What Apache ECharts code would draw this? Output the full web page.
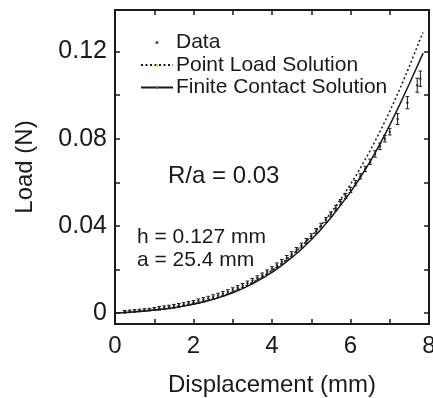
<!DOCTYPE html>
<html>
<head>
<meta charset="utf-8">
<script src="https://cdn.jsdelivr.net/npm/echarts@6/dist/echarts.min.js"></script>
<style>
  html, body { margin: 0; padding: 0; background: #fff; }
  #chart { width: 433px; height: 398px; }
</style>
</head>
<body>
<div id="chart"></div>
<script>
// Model curves, sampled in displacement (mm)
const curveDisp = [0, 0.25, 0.5, 0.75, 1, 1.25, 1.5, 1.75, 2, 2.25, 2.5, 2.75, 3, 3.25, 3.5, 3.75, 4,
  4.25, 4.5, 4.75, 5, 5.25, 5.5, 5.75, 6, 6.25, 6.5, 6.75, 7, 7.25, 7.5, 7.75, 7.85];
const finiteContactLoad = [0, 0.0003, 0.0006, 0.0010, 0.0014, 0.0019, 0.0025, 0.0032, 0.0041, 0.0051,
  0.0063, 0.0077, 0.0093, 0.0112, 0.0134, 0.0159, 0.0187, 0.0219, 0.0254, 0.0293, 0.0336, 0.0384,
  0.0437, 0.0495, 0.0555, 0.0622, 0.0695, 0.0775, 0.0862, 0.0955, 0.1052, 0.1152, 0.1192];
const pointLoad = [0, 0.0003, 0.0006, 0.0010, 0.0014, 0.0019, 0.0025, 0.0033, 0.0042, 0.0052,
  0.0065, 0.0079, 0.0096, 0.0116, 0.0139, 0.0165, 0.0195, 0.0228, 0.0265, 0.0306, 0.0352, 0.0403,
  0.0460, 0.0522, 0.0590, 0.0664, 0.0745, 0.0832, 0.0925, 0.1025, 0.1132, 0.1245, 0.1287];

// Measured points with half-width of the error bars
const dataDisp = [0.25, 0.375, 0.5, 0.625, 0.75, 0.875, 1.0,
  1.125, 1.25, 1.375, 1.5, 1.625, 1.75, 1.875, 2.0,
  2.125, 2.25, 2.375, 2.5, 2.625, 2.75, 2.875, 3.0, 3.125, 3.25, 3.375, 3.5, 3.625, 3.75, 3.875, 4.0,
  4.125, 4.25, 4.375, 4.5, 4.625, 4.75, 4.875, 5.0, 5.125, 5.25, 5.375, 5.5,
  5.625, 5.75, 5.875, 6.0, 6.125, 6.25, 6.375, 6.5,
  6.625, 6.75, 6.875, 7.0,
  7.2, 7.45, 7.7, 7.78];
const dataLoad = [0.0006, 0.0008, 0.0010, 0.0012, 0.0014, 0.0016, 0.0019,
  0.0022, 0.0025, 0.0028, 0.0032, 0.0036, 0.0040, 0.0045, 0.0050,
  0.0055, 0.0061, 0.0067, 0.0074, 0.0081, 0.0089, 0.0097, 0.0106, 0.0116, 0.0126, 0.0137, 0.0149,
  0.0161, 0.0174, 0.0188, 0.0203,
  0.0219, 0.0235, 0.0253, 0.0271, 0.0290, 0.0310, 0.0331, 0.0353, 0.0377, 0.0401, 0.0427, 0.0453,
  0.0481, 0.0509, 0.0537, 0.0565, 0.0596, 0.0627, 0.0661, 0.0694,
  0.0730, 0.0765, 0.0800, 0.0832,
  0.0890, 0.0965, 0.1045, 0.1075];
const dataErr = [0.0006, 0.0006, 0.0006, 0.0006, 0.0006, 0.0006, 0.0006,
  0.0008, 0.0008, 0.0008, 0.0008, 0.0008, 0.0008, 0.0008, 0.0008,
  0.0010, 0.0010, 0.0010, 0.0010, 0.0010, 0.0010, 0.0010, 0.0010, 0.0010, 0.0010, 0.0010, 0.0010,
  0.0010, 0.0010, 0.0010, 0.0010,
  0.0011, 0.0011, 0.0011, 0.0011, 0.0011, 0.0011, 0.0011, 0.0011, 0.0011, 0.0011, 0.0011, 0.0011,
  0.0012, 0.0012, 0.0012, 0.0012, 0.0012, 0.0012, 0.0012, 0.0012,
  0.0015, 0.0015, 0.0015, 0.0015,
  0.0025, 0.0028, 0.0032, 0.0035];

// Axis ticks and labels
const xTickValues = [0, 1, 2, 3, 4, 5, 6, 7, 8];
const xLabelValues = [0, 2, 4, 6, 8];
const yTickValues = [0, 0.02, 0.04, 0.06, 0.08, 0.10, 0.12];
const yLabelValues = [0, 0.04, 0.08, 0.12];

const FONT = '"Liberation Sans", Arial, Helvetica, sans-serif';
const INK = '#1a1a1a';

const chart = echarts.init(document.getElementById('chart'), null, { renderer: 'canvas' });

const frameLine = { show: true, onZero: false, lineStyle: { color: INK, width: 2 } };
const tickStyle = (vals) => ({ show: true, inside: true, length: 5, customValues: vals,
  lineStyle: { color: INK, width: 1.5 } });

const xBase = { type: 'value', min: 0, max: 8, axisLine: frameLine, splitLine: { show: false } };
const yBase = { type: 'value', min: -0.005, max: 0.139, axisLine: frameLine, splitLine: { show: false } };

chart.setOption({
  animation: false,
  backgroundColor: '#fff',
  textStyle: { fontFamily: FONT, color: INK },
  grid: { left: 115, right: 4, top: 10, bottom: 74, containLabel: false, outerBoundsMode: 'none' },
  xAxis: [
    Object.assign({}, xBase, {
      position: 'bottom',
      name: 'Displacement (mm)', nameLocation: 'middle', nameGap: 49,
      nameTextStyle: { fontFamily: FONT, fontSize: 24, color: INK },
      axisTick: tickStyle(xTickValues),
      axisLabel: { customValues: xLabelValues, margin: 10, fontFamily: FONT, fontSize: 24, color: INK,
        formatter: (v) => String(v) }
    }),
    Object.assign({}, xBase, {
      position: 'top', axisTick: tickStyle(xTickValues), axisLabel: { show: false }
    })
  ],
  yAxis: [
    Object.assign({}, yBase, {
      position: 'left',
      name: 'Load (N)', nameLocation: 'middle', nameGap: 78,
      nameTextStyle: { fontFamily: FONT, fontSize: 24, color: INK },
      axisTick: tickStyle(yTickValues),
      axisLabel: { customValues: yLabelValues, margin: 8, fontFamily: FONT, fontSize: 25, color: INK,
        formatter: (v) => (v === 0 ? '0' : v.toFixed(2)) }
    }),
    Object.assign({}, yBase, {
      position: 'right', axisTick: tickStyle(yTickValues), axisLabel: { show: false }
    })
  ],
  legend: {
    orient: 'vertical', left: 140, top: 32, padding: 0,
    itemWidth: 32, itemHeight: 3, itemGap: 1.5,
    selectedMode: false,
    textStyle: { fontFamily: FONT, fontSize: 21, lineHeight: 21, color: INK, padding: [0, 0, 0, -2] },
    data: ['Data', 'Point Load Solution', 'Finite Contact Solution']
  },
  graphic: [
    { type: 'text', left: 168, top: 164, style: { text: 'R/a = 0.03', font: '24px ' + FONT, fill: INK } },
    { type: 'text', left: 137, top: 227, style: { text: 'h = 0.127 mm', font: '21px ' + FONT, fill: INK } },
    { type: 'text', left: 137, top: 250, style: { text: 'a = 25.4 mm', font: '21px ' + FONT, fill: INK } }
  ],
  series: [
    {
      name: 'Data', type: 'scatter', symbol: 'circle', symbolSize: 2.5,
      itemStyle: { color: INK },
      data: dataDisp.map((x, i) => [x, dataLoad[i]]),
      z: 3
    },
    {
      name: 'Data error', type: 'custom',
      data: dataDisp.map((x, i) => [x, dataLoad[i] - dataErr[i], dataLoad[i] + dataErr[i]]),
      encode: { x: 0, y: [1, 2] },
      renderItem: function (params, api) {
        const lo = api.coord([api.value(0), api.value(1)]);
        const hi = api.coord([api.value(0), api.value(2)]);
        const cap = 1.8;
        const st = { stroke: INK, lineWidth: 1 };
        return {
          type: 'group',
          children: [
            { type: 'line', shape: { x1: lo[0], y1: lo[1], x2: hi[0], y2: hi[1] }, style: st },
            { type: 'line', shape: { x1: lo[0] - cap, y1: lo[1], x2: lo[0] + cap, y2: lo[1] }, style: st },
            { type: 'line', shape: { x1: hi[0] - cap, y1: hi[1], x2: hi[0] + cap, y2: hi[1] }, style: st }
          ]
        };
      },
      z: 3
    },
    {
      name: 'Point Load Solution', type: 'line', showSymbol: false, symbol: 'none', smooth: false,
      lineStyle: { color: INK, width: 1.5, type: [2, 2.5] },
      data: curveDisp.map((x, i) => [x, pointLoad[i]]),
      z: 2
    },
    {
      name: 'Finite Contact Solution', type: 'line', showSymbol: false, symbol: 'none', smooth: false,
      lineStyle: { color: INK, width: 1.5 },
      data: curveDisp.map((x, i) => [x, finiteContactLoad[i]]),
      z: 2
    }
  ]
});
</script>
</body>
</html>
